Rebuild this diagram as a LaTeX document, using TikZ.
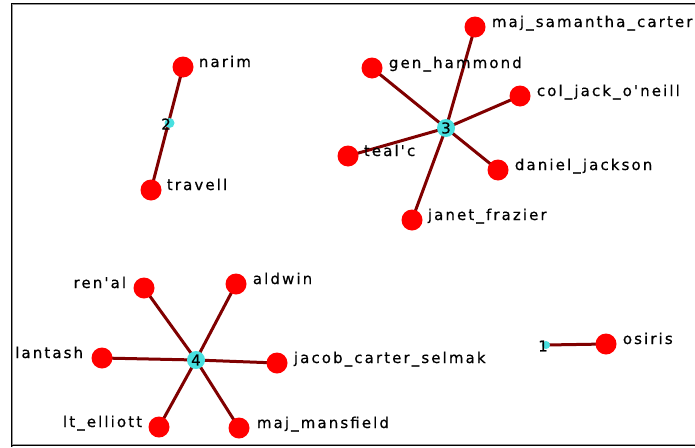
\documentclass[tikz,border=0pt]{standalone}
\usepackage{fontspec}
\usepackage{xcolor}
\usepackage{tikz}
\usetikzlibrary{positioning,backgrounds}

\newfontfamily\netfont[LetterSpace=14,FakeBold=0.6]{DejaVu Sans}
\definecolor{actorred}{RGB}{255,0,0}
\definecolor{tiered}{RGB}{128,0,0}
\definecolor{hubcyan}{RGB}{72,224,224}
\definecolor{framegray}{RGB}{150,150,150}

\begin{document}
\begin{tikzpicture}[
    x=1pt, y=-1pt,
    actor/.style={circle, fill=actorred, minimum size=21pt, inner sep=0pt},
    hub/.style={circle, fill=hubcyan, minimum size=18pt, inner sep=0pt},
    smallhub/.style={circle, fill=hubcyan, minimum size=10pt, inner sep=0pt},
    digit/.style={inner sep=0pt, font=\netfont\fontsize{15}{15}\selectfont},
    actorname/.style={inner sep=0pt, text=black, font=\netfont\fontsize{15}{15}\selectfont},
    tie/.style={draw=tiered, line width=3pt}
]

\useasboundingbox (0,0) rectangle (695,447);

% ── Frame ──
\draw[black, line width=1pt] (11.5,447) -- (11.5,3.5) -- (695,3.5);
\draw[framegray, line width=1pt] (12.5,447) -- (12.5,4.5) -- (695,4.5);
\draw[framegray, line width=1pt] (12,444.5) -- (695,444.5);
\draw[black, line width=1pt] (11,445.5) -- (695,445.5);

% ── Group 2 ──
\node[actor] (narim) at (183,67) {};
\node[actor] (travell) at (151,190) {};
\node[smallhub] (hub2) at (169.5,123) {};
\node[digit] (d2) at (166,124) {2};

% ── Group 3 ──
\node[hub] (hub3) at (446,128) {};
\node[digit] (d3) at (446,128) {3};
\node[actor] (carter) at (475,27) {};
\node[actor] (hammond) at (372,68) {};
\node[actor] (oneill) at (520,96) {};
\node[actor] (tealc) at (348,156) {};
\node[actor] (daniel) at (498,170) {};
\node[actor] (janet) at (412,220) {};

% ── Group 4 ──
\node[hub] (hub4) at (196,360) {};
\node[digit] (d4) at (196,360) {4};
\node[actor] (renal) at (144,288) {};
\node[actor] (aldwin) at (236,284) {};
\node[actor] (lantash) at (102,358) {};
\node[actor] (jacob) at (277,363) {};
\node[actor] (elliott) at (159,427) {};
\node[actor] (mansfield) at (239,428) {};

% ── Group 1 ──
\node[smallhub, minimum size=8pt] (hub1) at (546,345) {};
\node[digit] (d1) at (543,346) {1};
\node[actor] (osiris) at (606,344) {};

% ── Names ──
\node[actorname, right=5pt of narim.east, anchor=base west] (narimL) {narim};
\node[actorname, right=5pt of travell.east, anchor=base west] (travellL) {travell};
\node[actorname, right=6pt of carter.east, anchor=base west] (carterL) {maj\_samantha\_carter};
\node[actorname, right=6pt of hammond.east, anchor=base west] (hammondL) {gen\_hammond};
\node[actorname, right=6pt of oneill.east, anchor=base west] (oneillL) {col\_jack\_o'neill};
\node[actorname, right=5pt of tealc.east, anchor=base west] (tealcL) {teal'c};
\node[actorname, right=6pt of daniel.east, anchor=base west] (danielL) {daniel\_jackson};
\node[actorname, right=5pt of janet.east, anchor=base west] (janetL) {janet\_frazier};
\node[actorname, left=7pt of renal.west, anchor=base east] (renalL) {ren'al};
\node[actorname, right=6pt of aldwin.east, anchor=base west] (aldwinL) {aldwin};
\node[actorname, left=8pt of lantash.west, anchor=base east] (lantashL) {lantash};
\node[actorname, right=6pt of jacob.east, anchor=base west] (jacobL) {jacob\_carter\_selmak};
\node[actorname, left=6pt of elliott.west, anchor=base east] (elliottL) {lt\_elliott};
\node[actorname, right=7pt of mansfield.east, anchor=base west] (mansfieldL) {maj\_mansfield};
\node[actorname, right=6pt of osiris.east, anchor=base west] (osirisL) {osiris};

% ── Ties ──
\begin{pgfonlayer}{background}
\draw[tie] (narim.center) -- (travell.center);
\foreach \a in {carter,hammond,oneill,tealc,daniel,janet}
  \draw[tie] (hub3.center) -- (\a.center);
\foreach \a in {renal,aldwin,lantash,jacob,elliott,mansfield}
  \draw[tie] (hub4.center) -- (\a.center);
\draw[tie] (hub1.center) -- (osiris.center);
\end{pgfonlayer}

\end{tikzpicture}
\end{document}
